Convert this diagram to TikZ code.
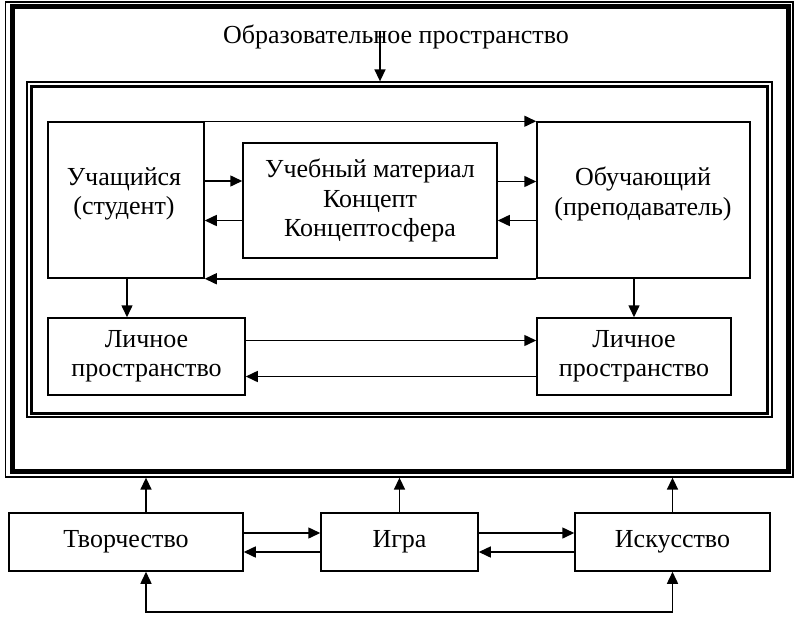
\documentclass[tikz,border=0pt]{standalone}
\usepackage{fontspec}
\setmainfont{Liberation Serif}
\usetikzlibrary{arrows.meta}
\begin{document}
\begin{tikzpicture}[x=1pt,y=-1pt,
  txt/.style={font=\fontsize{26}{29.5}\selectfont, align=center, inner sep=0pt},
  box/.style={draw, line width=1.5pt, inner sep=0pt, align=center,
    font=\fontsize{26}{29.5}\selectfont},
  arr/.style={line width=1.5pt, -{Triangle[length=12pt,width=11pt]}},
  arrb/.style={line width=1.5pt, {Triangle[length=12pt,width=11pt]}-{Triangle[length=12pt,width=11pt]}}]
\useasboundingbox (0,0) rectangle (797,618);
% outer double frame
\node[draw, line width=1.3pt, minimum width=787.5pt, minimum height=475pt, inner sep=0pt] (frame) at (399.25,239.5) {};
\node[draw, line width=5pt, minimum width=776pt, minimum height=464pt, inner sep=0pt] (frameth) at (400,239) {};
% inner double frame
\node[draw, line width=1.3pt, minimum width=745pt, minimum height=335pt, inner sep=0pt] (inner) at (399.5,249.5) {};
\node[draw, line width=3pt, minimum width=736pt, minimum height=327pt, inner sep=0pt] (innerth) at (399,249.5) {};
% title
\node[txt] (title) at (396,37) {Образовательное пространство};
\coordinate (tstart) at (380,31);
\draw[arr] (tstart) -- (tstart |- inner.north);
% main boxes
\node[box, minimum width=156pt, minimum height=156pt] (stud) at (126,200) {};
\node[txt] (studt) at (124,194) {Учащийся\\(студент)};
\node[box, minimum width=254pt, minimum height=115pt] (mat) at (370,200.5) {Учебный материал\\Концепт\\Концептосфера};
\node[box, minimum width=213pt, minimum height=156pt] (teach) at (643.5,200) {};
\node[txt] (teacht) at (643,194) {Обучающий\\(преподаватель)};
\node[box, minimum width=197pt, minimum height=77pt] (lpL) at (146.5,356.5) {Личное\\пространство};
\node[box, minimum width=194pt, minimum height=77pt] (lpR) at (634,356.5) {Личное\\пространство};
% main connectors
\draw[arr] (stud.north east) -- (teach.north west);
\draw[arr] (teach.south west) -- (stud.south east);
\draw[arr] ([yshift=19pt]stud.east) -- ([yshift=19pt]stud.east -| mat.west);
\draw[arr] ([yshift=-20pt]mat.west) -- ([yshift=-20pt]mat.west -| stud.east);
\draw[arr] ([yshift=19pt]mat.east) -- ([yshift=19pt]mat.east -| teach.west);
\draw[arr] ([yshift=-20pt]teach.west |- mat.west) -- ([yshift=-20pt]mat.east);
\draw[arr] ([xshift=1pt]stud.south) -- ([xshift=1pt]stud.south |- lpL.north);
\draw[arr] (teach.south -| lpR.north) -- (lpR.north);
\draw[arr] ([yshift=16pt]lpL.east) -- ([yshift=16pt]lpL.east -| lpR.west);
\draw[arr] ([yshift=-20pt]lpR.west) -- ([yshift=-20pt]lpR.west -| lpL.east);
% bottom boxes
\node[box, minimum width=234pt, minimum height=58pt] (tv) at (126,542) {Творчество};
\node[box, minimum width=157pt, minimum height=58pt] (igra) at (399.5,542) {Игра};
\node[box, minimum width=195pt, minimum height=58pt] (isk) at (672.5,542) {Искусство};
\draw[arr] ([xshift=20pt]tv.north) -- ([xshift=20pt]tv.north |- frame.south);
\draw[arr] (igra.north) -- (igra.north |- frame.south);
\draw[arr] (isk.north) -- (isk.north |- frame.south);
\draw[arr] ([yshift=9pt]tv.east) -- ([yshift=9pt]tv.east -| igra.west);
\draw[arr] ([yshift=-10pt]igra.west) -- ([yshift=-10pt]igra.west -| tv.east);
\draw[arr] ([yshift=9pt]igra.east) -- ([yshift=9pt]igra.east -| isk.west);
\draw[arr] ([yshift=-10pt]isk.west) -- ([yshift=-10pt]isk.west -| igra.east);
\coordinate (loopL) at ([xshift=20pt,yshift=-40pt]tv.south);
\draw[arrb] ([xshift=20pt]tv.south) -- (loopL) -- (loopL -| isk.south) -- (isk.south);
\end{tikzpicture}
\end{document}
